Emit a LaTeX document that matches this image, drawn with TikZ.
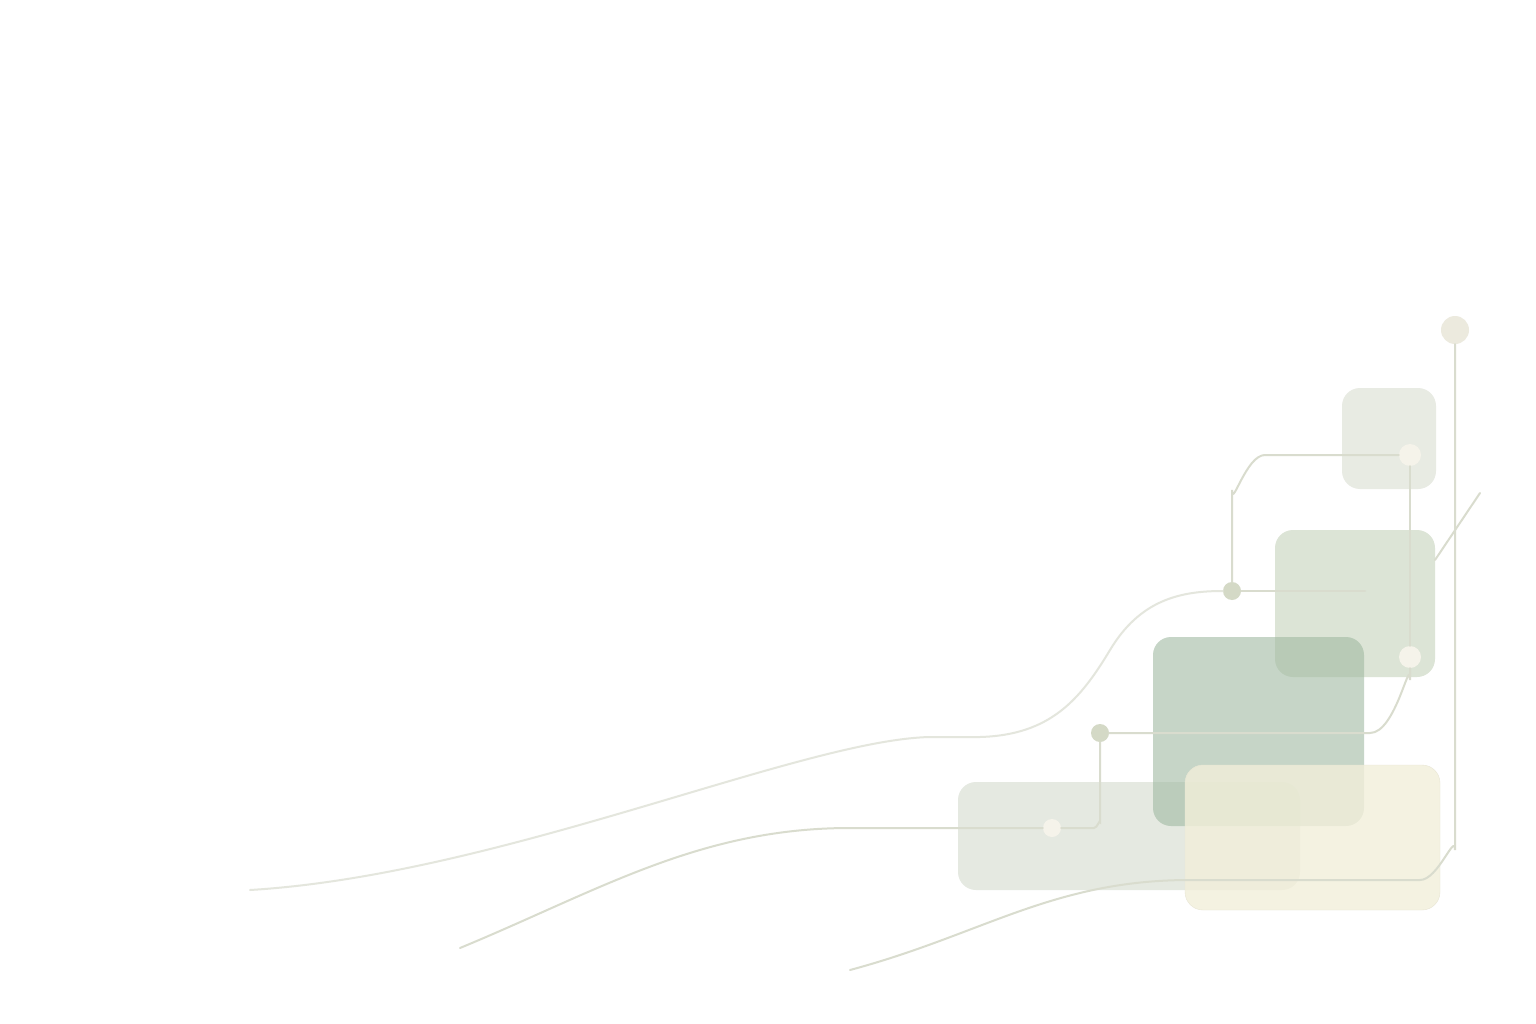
\documentclass[tikz,border=0pt]{standalone}
\begin{document}
\begin{tikzpicture}[x=1pt,y=-1pt,
  wire/.style={draw=wirec,line width=2pt,line cap=round},
  dotc/.style={circle,fill=dotg,inner sep=0pt,minimum size=18pt},
  dotw/.style={circle,fill=dotl,inner sep=0pt,minimum size=22pt},
  tile/.style={rounded corners=18pt}]
\definecolor{wirec}{HTML}{D9DCCE}
\definecolor{dotg}{HTML}{D4D9C6}
\definecolor{dotl}{HTML}{F5F3EA}
\useasboundingbox (0,0) rectangle (1536,1024);
\fill[white] (0,0) rectangle (1536,1024);
% tiles
\fill[tile,fill={rgb,255:red,232;green,235;blue,227}] (1342,388) rectangle (1436,489);
\fill[tile,fill={rgb,255:red,220;green,228;blue,214}] (1275,530) rectangle (1435,677);
\fill[tile,fill={rgb,255:red,229;green,233;blue,225}] (958,782) rectangle (1300,890);
\fill[tile,fill={rgb,255:red,160;green,186;blue,162},fill opacity=0.6] (1153,637) rectangle (1364,826);
\fill[tile,fill={rgb,255:red,242;green,239;blue,218},fill opacity=0.8,draw={rgb,255:red,232;green,230;blue,212}] (1185,765) rectangle (1440,910);
% wires
\coordinate (a0) at (1455,330);
\node[dotc,fill={rgb,255:red,236;green,234;blue,222},minimum size=28pt] (atop) at (a0) {};
\draw[wire] (atop.south) -- (1455,850) to[out=90,in=0] (1420,880) -- (1190,880) to[out=180,in=15] (850,970);
\node[dotc] (b1) at (1232,591) {};
\node[dotw] (b2) at (1410,455) {};
\node[dotw] (b3) at (1410,657) {};
\node[dotc] (b4) at (1100,733) {};
\node[dotw,minimum size=18pt] (b5) at (1052,828) {};
\coordinate (bl) at (250,890);
\draw[wire,draw=wirec!70] (bl) .. controls (500,875) and (800,740) .. (930,737) -- (980,737) .. controls (1050,735) and (1080,700) .. (1110,650) .. controls (1140,600) and (1180,591) .. (b1.west);
\draw[wire] (b1.east) -- (1365,591);
\draw[wire] (b1.north) -- (1232,490) to[out=-90,in=180] (1265,455) -- (b2.west);
\draw[wire] (b2.south) -- (b3.north);
\draw[wire] (b3.south) -- (1410,680) to[out=90,in=0] (1370,733) -- (b4.east);
\draw[wire] (b4.south) -- (1100,822) to[out=90,in=0] (1094,828) -- (b5.east);
\draw[wire] (b5.west) -- (850,828) .. controls (700,828) and (600,890) .. (460,948);
\draw[wire] (1435,560) -- (1480,493);
\end{tikzpicture}
\end{document}
